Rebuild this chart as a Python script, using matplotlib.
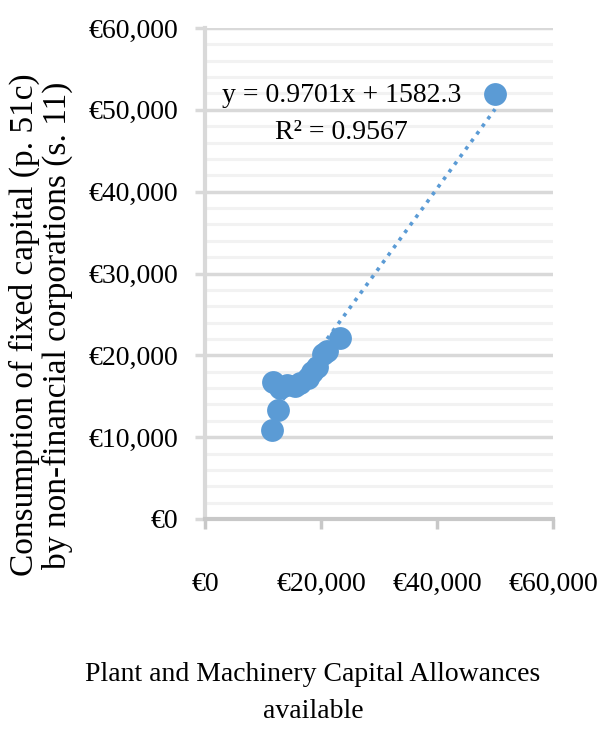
import numpy as np
import matplotlib.pyplot as plt
from matplotlib.ticker import FuncFormatter, MultipleLocator

# capital allowances (x) vs consumption of fixed capital (y), euro
allowances = [11500, 12600, 11800, 13000, 14100, 15500, 16400, 17800, 18500,
              19300, 20400, 21000, 23300, 50000]
consumption = [10900, 13300, 16800, 16000, 16400, 16200, 16600, 17200, 18000,
               18600, 20200, 20500, 22100, 51900]

slope = 0.9701
intercept = 1582.3
r_squared = 0.9567

xticks = [0, 20000, 40000, 60000]
yticks = [0, 10000, 20000, 30000, 40000, 50000, 60000]

plt.rcParams['font.family'] = ['Liberation Serif', 'DejaVu Serif']

fig = plt.figure(figsize=(5.97, 7.32), dpi=100)
ax = fig.add_axes([0.3434, 0.291, 0.583, 0.6707])

blue = '#5b9bd5'
ax.scatter(allowances, consumption, s=270, color=blue, zorder=3, linewidths=0)

xs = np.array([min(allowances), max(allowances)])
ax.plot(xs, slope * xs + intercept, color=blue, linestyle=(0, (1, 1.6)),
        linewidth=2.6, zorder=2)

ax.set_xlim(0, 60000)
ax.set_ylim(0, 60000)
ax.set_xticks(xticks)
ax.set_yticks(yticks)
ax.yaxis.set_minor_locator(MultipleLocator(2000))
fmt = FuncFormatter(lambda v, p: '€{:,.0f}'.format(v))
ax.xaxis.set_major_formatter(fmt)
ax.yaxis.set_major_formatter(fmt)

ax.grid(axis='y', which='major', color='#d9d9d9', linewidth=2.5, zorder=0)
ax.grid(axis='y', which='minor', color='#f2f2f2', linewidth=2.2, zorder=0)
ax.set_axisbelow(True)

for side in ['top', 'right']:
    ax.spines[side].set_visible(False)
ax.spines['left'].set_color('#d9d9d9')
ax.spines['left'].set_linewidth(3)
ax.spines['bottom'].set_color('#c8c8c8')
ax.spines['bottom'].set_linewidth(3)

ax.tick_params(axis='y', which='major', length=7, width=2.5, color='#d9d9d9',
               labelsize=20, pad=12)
ax.tick_params(axis='y', which='minor', length=0)
ax.tick_params(axis='x', length=7, width=2.5, color='#c8c8c8', labelsize=20, pad=31)

ax.text(0.393, 0.825, 'y = 0.9701x + 1582.3\nR² = {}'.format(r_squared),
        transform=ax.transAxes, ha='center', va='center', fontsize=20,
        linespacing=1.65)

# axis titles sit off-centre in the original, so place them on the figure
fig.text(313 / 597, 1 - 693 / 732,
         'Plant and Machinery Capital Allowances\navailable',
         ha='center', va='center', fontsize=20, linespacing=1.6)
fig.text(41 / 597, 1 - 325 / 732,
         'Consumption of fixed capital (p. 51c)\nby non-financial corporations (s. 11)',
         ha='center', va='center', rotation=90, fontsize=24, linespacing=1.05)

fig.savefig('out.png', dpi=100)
